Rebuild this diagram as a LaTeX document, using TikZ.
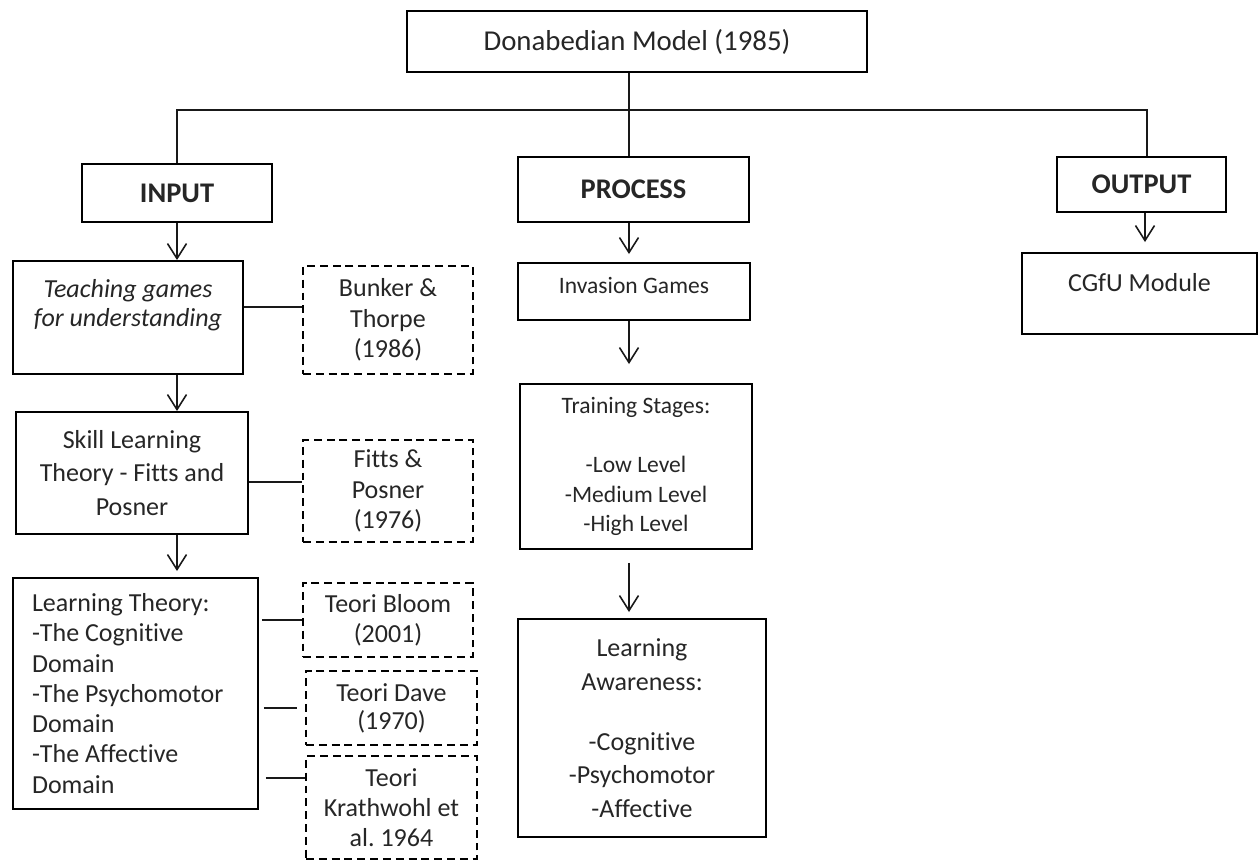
\documentclass[tikz,border=0pt]{standalone}
\usepackage{fontspec}
\setmainfont[Ligatures=NoCommon]{Carlito}
\usetikzlibrary{arrows.meta}
\newcommand{\fsz}[2]{\fontsize{#1}{#2}\selectfont}

\begin{document}
\begin{tikzpicture}[x=0.02cm, y=-0.02cm,
  box/.style={draw, line width=1.1pt, inner sep=0pt, align=center, text=black!85},
  refbox/.style={box, line width=1pt, dash pattern=on 4.5pt off 2.8pt},
  sz/.style 2 args={minimum width=#1*0.02cm, minimum height=#2*0.02cm},
  head/.style={font=\fsz{16.2}{19}\bfseries},
  link/.style={line width=0.9pt, black!90},
  flow/.style={link, -{Straight Barb[length=0.3cm, width=0.38cm]}}]
\useasboundingbox (0,0) rectangle (1259,861);

% model and its three parts
\node[box, sz={460}{61}, font=\fsz{16.4}{19}] (top) at (637,41.5) {Donabedian Model (1985)};
\node[box, head, sz={190}{58}] (input) at (177,193) {INPUT};
\node[box, head, sz={231}{65}] (process) at (633.5,189.5) {PROCESS};
\node[box, head, sz={169}{55}] (output) at (1141.5,184.5) {OUTPUT};

% input column
\node[box, sz={230}{113}, font=\fsz{14.8}{16.5}\itshape] (tg) at (128,317.5)
  {Teaching games\\for understanding\\[-5pt]\strut};
\node[box, sz={232}{122}, font=\fsz{14.8}{19.3}] (skill) at (132,473)
  {Skill Learning\\Theory - Fitts and\\Posner};
\node[box, sz={245}{231}, text width=4.14cm, align=flush left, font=\fsz{14.8}{17.2}] (lt) at (135.5,693.5)
  {Learning Theory:\\-The Cognitive\\Domain\\-The Psychomotor\\Domain\\-The Affective\\Domain};

% sources
\node[refbox, sz={170}{108}, font=\fsz{14.8}{17.4}] (bunker) at (388,320) {Bunker \&\\Thorpe\\(1986)};
\node[refbox, sz={170}{102}, font=\fsz{14.8}{17.4}] (fitts) at (388,491) {Fitts \&\\Posner\\(1976)};
\node[refbox, sz={170}{74}, font=\fsz{14.8}{17.1}] (bloom) at (388,620) {Teori Bloom\\(2001)};
\node[refbox, sz={171}{74}, font=\fsz{14.8}{15.9}] (dave) at (391.5,708) {Teori Dave\\(1970)};
\node[refbox, sz={171}{103}, font=\fsz{14.8}{17.1}] (kr) at (391.5,807.5) {Teori\\Krathwohl et\\al.\ 1964};

% process column
\node[box, sz={232}{57}, font=\fsz{13.4}{16.8}, text depth=0.26cm] (inv) at (634,291.5) {Invasion Games};
\node[box, sz={232}{165}, font=\fsz{13.4}{16.8}] (train) at (636,466.5)
  {Training Stages:\\[16.8pt]-Low Level\\-Medium Level\\-High Level};
\node[box, sz={248}{218}, font=\fsz{14.8}{19.1}] (la) at (642,728)
  {Learning\\Awareness:\\[15pt]-Cognitive\\-Psychomotor\\-Affective};

% output column
\node[box, sz={235}{81}, font=\fsz{14.8}{17.1}, text depth=0.46cm] (cgfu) at (1139.5,293.5) {CGfU Module};

% tree
\coordinate (bus) at (0,110);
\coordinate (trunk) at (629,110);
\coordinate (obus) at (1147,110);
\coordinate (oarr) at (1145,0);
\draw[link] (top.south -| trunk) -- (process.north -| trunk);
\draw[link] (input.north) -- (input.north |- bus) -- (obus) -- (output.north -| obus);

% arrows
\draw[flow] (input.south) -- (tg.north -| input.south);
\draw[flow] (tg.south -| input.south) -- (skill.north -| input.south);
\draw[flow, shorten >=0.12cm] (skill.south -| input.south) -- (lt.north -| input.south);
\draw[flow, shorten >=0.16cm] (process.south -| trunk) -- (inv.north -| trunk);
\draw[flow, shorten >=0.38cm] (inv.south -| trunk) -- (train.north -| trunk);
\draw[flow, shorten <=0.26cm, shorten >=0.12cm] (train.south -| trunk) -- (la.north -| trunk);
\draw[flow, shorten >=0.2cm] (output.south -| oarr) -- (cgfu.north -| oarr);

% links to sources
\draw[link] (tg.east |- 0,307) -- (bunker.west |- 0,307);
\draw[link] (skill.east |- 0,482) -- (fitts.west |- 0,482);
\draw[link, shorten <=0.06cm] (lt.east |- bloom.west) -- (bloom.west);
\draw[link, shorten <=0.1cm, shorten >=0.16cm] (lt.east |- dave.west) -- (dave.west);
\draw[link, shorten <=0.14cm] (lt.east |- 0,778) -- (kr.west |- 0,778);
\end{tikzpicture}
\end{document}
